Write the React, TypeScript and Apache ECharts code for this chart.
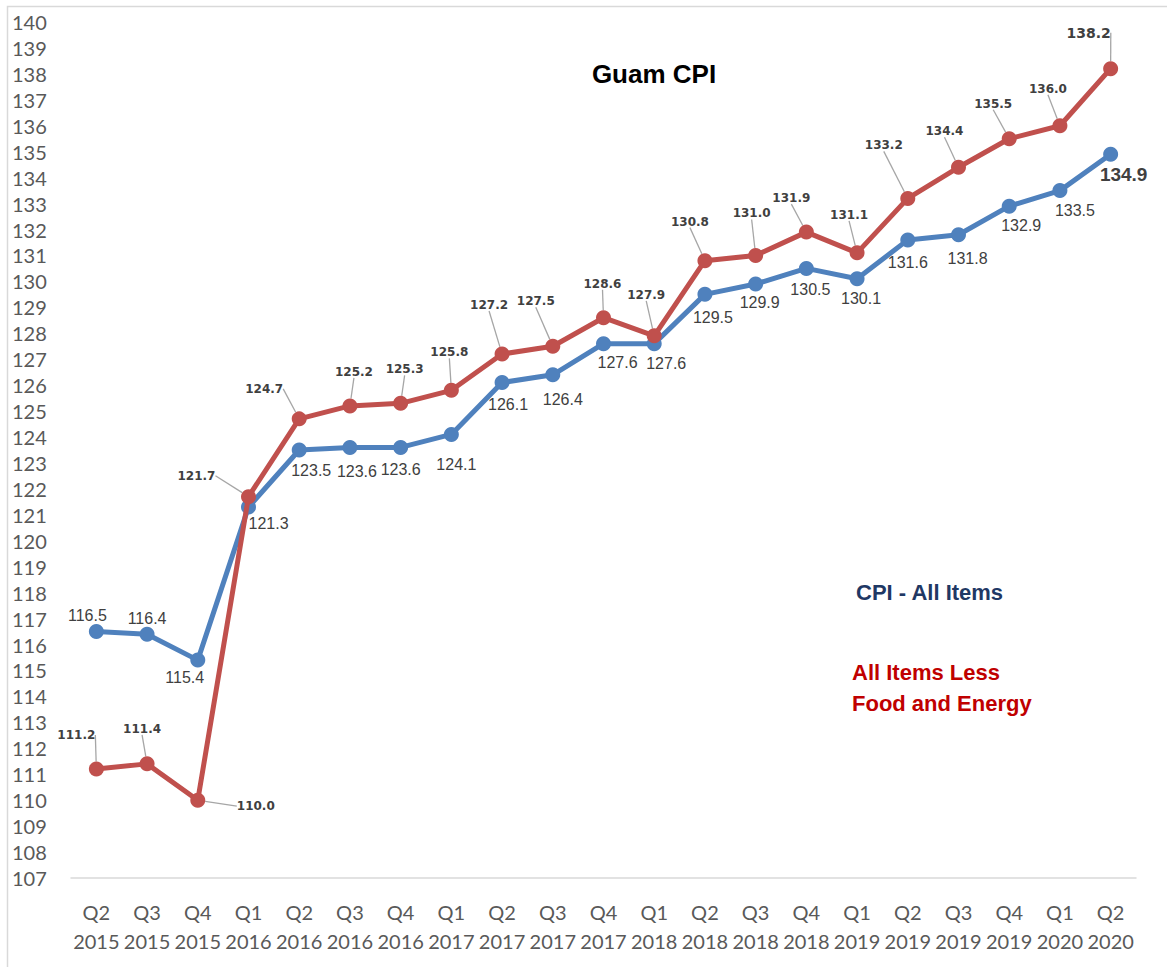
import { useEffect, useRef } from 'react';
import * as echarts from 'echarts';

const categories = ['Q2 2015', 'Q3 2015', 'Q4 2015', 'Q1 2016', 'Q2 2016', 'Q3 2016', 'Q4 2016', 'Q1 2017', 'Q2 2017', 'Q3 2017', 'Q4 2017', 'Q1 2018', 'Q2 2018', 'Q3 2018', 'Q4 2018', 'Q1 2019', 'Q2 2019', 'Q3 2019', 'Q4 2019', 'Q1 2020', 'Q2 2020'];
const cpiAllItems = [116.5, 116.4, 115.4, 121.3, 123.5, 123.6, 123.6, 124.1, 126.1, 126.4, 127.6, 127.6, 129.5, 129.9, 130.5, 130.1, 131.6, 131.8, 132.9, 133.5, 134.9];
const cpiLessFoodEnergy = [111.2, 111.4, 110.0, 121.7, 124.7, 125.2, 125.3, 125.8, 127.2, 127.5, 128.6, 127.9, 130.8, 131.0, 131.9, 131.1, 133.2, 134.4, 135.5, 136.0, 138.2];
const yTicks = { min: 107, max: 140, step: 1 };

// label placement (pixel offsets of label centre from the point)
const blueLabelOffsets = [[-9, -16], [0, -16], [-13, 17], [20, 16], [12, 20], [7, 24], [0, 22], [5, 30], [6, 22], [10, 25], [14, 19], [12, 20], [8, 23], [4, 19], [4, 21], [4, 20], [0, 23], [9, 24], [12, 19], [15, 20], [13, 20]];
const redLabelOffsets = [[-20, -34], [-5, -35], [58, 6], [-52, -21], [-35, -30], [4, -34], [4, -34], [-2, -38], [-13, -49], [-17, -45], [-1, -34], [-8, -41], [-15, -39], [-4, -42], [-15, -34], [-8, -38], [-24, -53], [-14, -36], [-16, -35], [-12, -37], [-22, -36]];

export default function App() {
  const ref = useRef<HTMLDivElement>(null);
  useEffect(() => {
    const chart = echarts.init(ref.current!, null, { renderer: 'svg' });
    const layoutFor = (offsets: number[][]) => (p: any) => {
      const o = offsets[p.dataIndex] || [0, 0];
      return {
        x: p.rect.x + p.rect.width / 2 + o[0],
        y: p.rect.y + p.rect.height / 2 + o[1],
        align: 'center',
        verticalAlign: 'middle',
      };
    };
    const last = cpiAllItems.length - 1;
    chart.setOption({
      animation: false,
      backgroundColor: '#ffffff',
      grid: { left: 71, right: 31, top: 22, bottom: 89, containLabel: false },
      xAxis: {
        type: 'category',
        data: categories,
        boundaryGap: true,
        axisLine: { lineStyle: { color: '#D9D9D9', width: 1.5 } },
        axisTick: { show: false },
        axisLabel: {
          interval: 0,
          formatter: (v: string) => v.replace(' ', '\n'),
          fontFamily: 'Lato, "Noto Sans", sans-serif',
          fontSize: 20,
          lineHeight: 29,
          color: '#595959',
          margin: 19,
        },
        splitLine: { show: false },
      },
      yAxis: {
        type: 'value',
        min: yTicks.min,
        max: yTicks.max,
        interval: yTicks.step,
        axisLine: { show: false },
        axisTick: { show: false },
        splitLine: { show: false },
        axisLabel: {
          align: 'left',
          margin: 59,
          fontFamily: 'Lato, "Noto Sans", sans-serif',
          fontSize: 20,
          color: '#595959',
        },
      },
      series: [
        {
          name: 'CPI - All Items',
          type: 'line',
          data: cpiAllItems.map((v, i) =>
            i === last
              ? { value: v, label: { fontSize: 19, fontWeight: 'bold' } }
              : v
          ),
          symbol: 'circle',
          symbolSize: 15,
          color: '#4F81BD',
          lineStyle: { color: '#4F81BD', width: 5 },
          itemStyle: { color: '#4F81BD' },
          label: {
            show: true,
            position: 'inside',
            formatter: (p: any) => Number(p.value).toFixed(1),
            fontFamily: '"Liberation Sans Narrow", "Liberation Sans", Arial, sans-serif',
            fontSize: 16,
            color: '#404040',
          },
          labelLayout: layoutFor(blueLabelOffsets),
          z: 2,
        },
        {
          name: 'All Items Less Food and Energy',
          type: 'line',
          data: cpiLessFoodEnergy.map((v, i) =>
            i === last ? { value: v, label: { fontSize: 14 } } : v
          ),
          symbol: 'circle',
          symbolSize: 15,
          color: '#C0504D',
          lineStyle: { color: '#C0504D', width: 5 },
          itemStyle: { color: '#C0504D' },
          label: {
            show: true,
            position: 'inside',
            formatter: (p: any) => Number(p.value).toFixed(1),
            fontFamily: '"DejaVu Sans", Verdana, sans-serif',
            fontWeight: 'bold',
            fontSize: 12,
            color: '#404040',
          },
          labelLine: {
            show: true,
            showAbove: false,
            lineStyle: { color: '#A6A6A6', width: 1.3 },
          },
          labelLayout: layoutFor(redLabelOffsets),
          z: 3,
        },
      ],
      graphic: [
        {
          type: 'rect',
          shape: { x: 7.5, y: 6.5, width: 1300, height: 1100 },
          style: { fill: 'none', stroke: '#D9D9D9', lineWidth: 1.5 },
          silent: true,
          z: -1,
        },
        {
          type: 'text',
          x: 654,
          y: 74,
          style: {
            text: 'Guam CPI',
            fontFamily: '"Liberation Sans", Arial, sans-serif',
            fontWeight: 'bold',
            fontSize: 26,
            fill: '#000000',
            align: 'center',
            verticalAlign: 'middle',
          },
        },
        {
          type: 'text',
          x: 856,
          y: 592,
          style: {
            text: 'CPI - All Items',
            fontFamily: '"Liberation Sans", Arial, sans-serif',
            fontWeight: 'bold',
            fontSize: 22,
            fill: '#1F3864',
            align: 'left',
            verticalAlign: 'middle',
          },
        },
        {
          type: 'text',
          x: 852,
          y: 688,
          style: {
            text: 'All Items Less\nFood and Energy',
            fontFamily: '"Liberation Sans", Arial, sans-serif',
            fontWeight: 'bold',
            fontSize: 22,
            lineHeight: 31,
            fill: '#C00000',
            align: 'left',
            verticalAlign: 'middle',
          },
        },
      ],
    });
    return () => chart.dispose();
  }, []);
  return (
    <div
      ref={ref}
      style={{ position: 'absolute', left: 0, top: 0, width: 1167, height: 967 }}
    />
  );
}
